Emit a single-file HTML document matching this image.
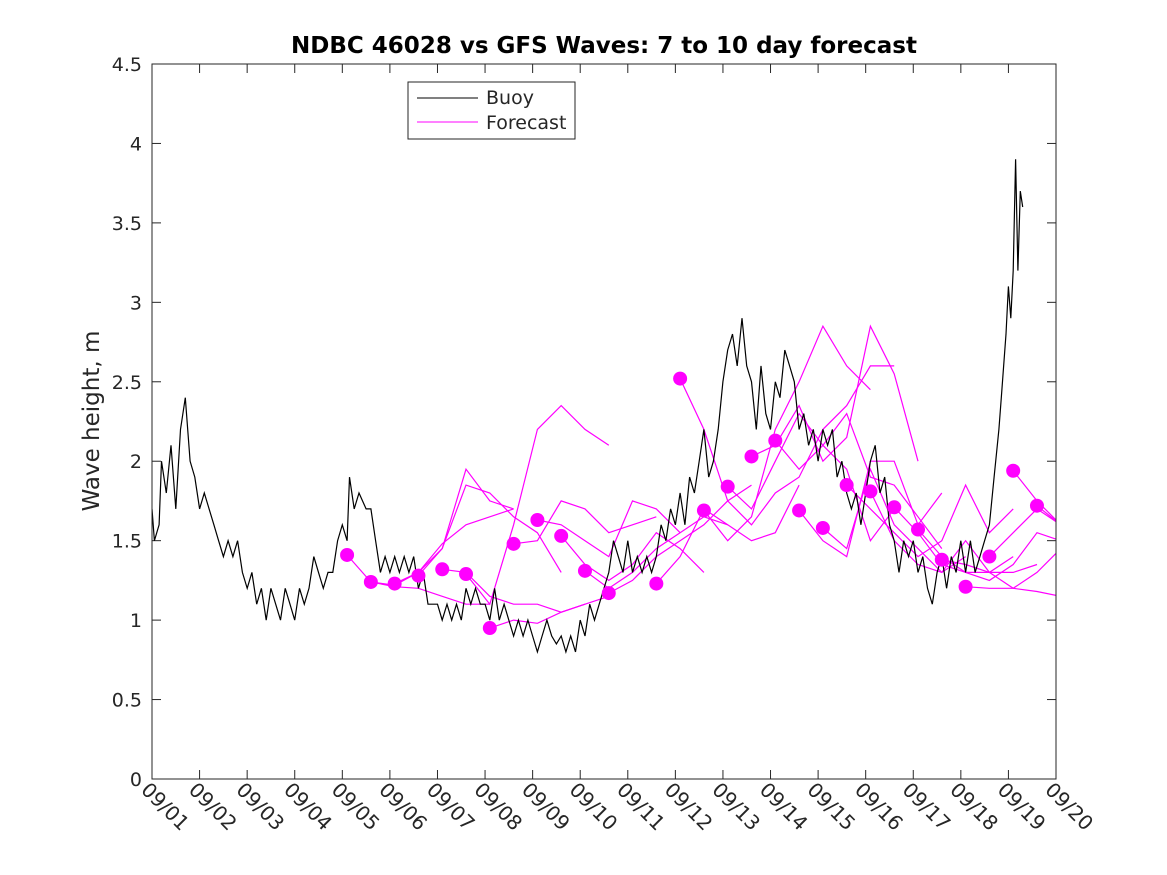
<!DOCTYPE html>
<html><head><meta charset="utf-8"><style>
body{margin:0;background:#fff;}
svg{display:block;font-family:"DejaVu Sans","Liberation Sans",sans-serif;}
</style></head><body>
<svg id="chart" width="1167" height="875" viewBox="0 0 1167 875">
<defs><clipPath id="pc"><rect x="152" y="64" width="904" height="715"/></clipPath></defs>
<rect x="0" y="0" width="1167" height="875" fill="#fff"/>
<text x="604" y="53" text-anchor="middle" font-size="23" font-weight="bold">NDBC 46028 vs GFS Waves: 7 to 10 day forecast</text>
<text transform="translate(99,421) rotate(-90)" text-anchor="middle" font-size="23" fill="#262626">Wave height, m</text>
<g id="axes"></g>
<g id="plot" clip-path="url(#pc)"></g>
<rect x="152" y="64" width="904" height="715" fill="none" stroke="#262626" stroke-width="1"/>
<g>
<rect x="408" y="82" width="167" height="57" fill="#fff" stroke="#262626" stroke-width="1"/>
<line x1="417" y1="98" x2="478" y2="98" stroke="#000"/>
<text x="486" y="104" font-size="19" fill="#262626">Buoy</text>
<line x1="417" y1="122" x2="478" y2="122" stroke="#f0f"/>
<text x="486" y="129" font-size="19" fill="#262626">Forecast</text>
</g>
</svg>
<script>
const yTicks=[0,0.5,1,1.5,2,2.5,3,3.5,4,4.5];
const yTickLabels=["0","0.5","1","1.5","2","2.5","3","3.5","4","4.5"];
const xTickLabels=["09/01","09/02","09/03","09/04","09/05","09/06","09/07","09/08","09/09","09/10","09/11","09/12","09/13","09/14","09/15","09/16","09/17","09/18","09/19","09/20"];
const buoyDays=[0,0.05,0.15,0.2,0.3,0.4,0.5,0.6,0.7,0.8,0.9,1.0,1.1,1.2,1.3,1.4,1.5,1.6,1.7,1.8,1.9,2.0,2.1,2.2,2.3,2.4,2.5,2.6,2.7,2.8,2.9,3.0,3.1,3.2,3.3,3.4,3.5,3.6,3.7,3.8,3.9,4.0,4.1,4.15,4.25,4.35,4.5,4.6,4.7,4.8,4.9,5.0,5.1,5.2,5.3,5.4,5.5,5.6,5.7,5.8,6.0,6.1,6.2,6.3,6.4,6.5,6.6,6.7,6.8,6.9,7.0,7.1,7.2,7.3,7.4,7.5,7.6,7.7,7.8,7.9,8.0,8.1,8.2,8.3,8.4,8.5,8.6,8.7,8.8,8.9,9.0,9.1,9.2,9.3,9.4,9.5,9.6,9.7,9.8,9.9,10.0,10.1,10.2,10.3,10.4,10.5,10.6,10.7,10.8,10.9,11.0,11.1,11.2,11.3,11.4,11.5,11.6,11.7,11.8,11.9,12.0,12.1,12.2,12.3,12.4,12.5,12.6,12.7,12.8,12.9,13.0,13.1,13.2,13.3,13.4,13.5,13.6,13.7,13.8,13.9,14.0,14.1,14.2,14.3,14.4,14.5,14.6,14.7,14.8,14.9,15.0,15.1,15.2,15.3,15.4,15.5,15.6,15.7,15.8,15.9,16.0,16.1,16.2,16.3,16.4,16.5,16.6,16.7,16.8,16.9,17.0,17.1,17.2,17.3,17.4,17.5,17.6,17.7,17.8,17.85,17.95,18.0,18.05,18.1,18.15,18.2,18.25,18.3];
const buoyValues=[1.7,1.5,1.6,2.0,1.8,2.1,1.7,2.2,2.4,2.0,1.9,1.7,1.8,1.7,1.6,1.5,1.4,1.5,1.4,1.5,1.3,1.2,1.3,1.1,1.2,1.0,1.2,1.1,1.0,1.2,1.1,1.0,1.2,1.1,1.2,1.4,1.3,1.2,1.3,1.3,1.5,1.6,1.5,1.9,1.7,1.8,1.7,1.7,1.5,1.3,1.4,1.3,1.4,1.3,1.4,1.3,1.4,1.2,1.3,1.1,1.1,1.0,1.1,1.0,1.1,1.0,1.2,1.1,1.2,1.1,1.1,1.0,1.2,1.0,1.1,1.0,0.9,1.0,0.9,1.0,0.9,0.8,0.9,1.0,0.9,0.85,0.9,0.8,0.9,0.8,1.0,0.9,1.1,1.0,1.1,1.2,1.3,1.5,1.4,1.3,1.5,1.3,1.4,1.3,1.4,1.3,1.4,1.6,1.5,1.7,1.6,1.8,1.6,1.9,1.8,2.0,2.2,1.9,2.0,2.2,2.5,2.7,2.8,2.6,2.9,2.6,2.5,2.2,2.6,2.3,2.2,2.5,2.4,2.7,2.6,2.5,2.2,2.3,2.1,2.2,2.0,2.2,2.1,2.2,1.9,2.0,1.8,1.7,1.8,1.6,1.8,2.0,2.1,1.8,1.9,1.6,1.5,1.3,1.5,1.4,1.5,1.3,1.4,1.2,1.1,1.3,1.4,1.2,1.4,1.3,1.5,1.3,1.5,1.3,1.4,1.5,1.6,1.9,2.2,2.4,2.8,3.1,2.9,3.2,3.9,3.2,3.7,3.6];
const markerDays=[4.1,4.6,5.1,5.6,6.1,6.6,7.1,7.6,8.1,8.6,9.1,9.6,10.6,11.1,11.6,12.1,12.6,13.1,13.6,14.1,14.6,15.1,15.6,16.1,16.6,17.1,17.6,18.1,18.6];
const markerValues=[1.41,1.24,1.23,1.28,1.32,1.29,0.95,1.48,1.63,1.53,1.31,1.17,1.23,2.52,1.69,1.84,2.03,2.13,1.69,1.58,1.85,1.81,1.71,1.57,1.38,1.21,1.40,1.94,1.72];
const forecastStep=0.5;
const forecastValues=[
[1.41,1.24,1.21,1.2,1.15,1.1,1.1],
[1.24,1.22,1.3,1.45,1.95,1.75,1.7],
[1.23,1.3,1.48,1.6,1.65,1.7],
[1.28,1.45,1.85,1.8,1.65,1.55,1.3],
[1.32,1.3,1.15,1.1,1.1,1.05,1.1],
[1.29,1.1,1.6,2.2,2.35,2.2,2.1],
[0.95,1.0,0.98,1.05,1.1,1.15],
[1.48,1.5,1.75,1.7,1.55,1.6,1.65],
[1.63,1.6,1.5,1.4,1.75,1.7,1.55],
[1.53,1.35,1.25,1.35,1.55,1.45,1.3],
[1.31,1.2,1.3,1.45,1.55,1.65,1.6],
[1.17,1.25,1.4,1.5,1.6,1.75,1.85],
[1.23,1.4,1.7,1.6,1.5,1.55,1.85],
[2.52,2.2,1.75,1.6,1.8,1.9,2.2,2.35,2.6,2.6],
[1.69,1.5,1.65,2.2,2.5,2.85,2.6,2.45],
[1.84,1.7,2.0,2.3,2.1,1.95,1.5,1.7],
[2.03,2.1,2.35,2.0,2.15,2.85,2.55,2.0],
[2.13,1.95,2.1,2.3,1.9,1.85,1.65,1.45],
[1.69,1.5,1.4,2.0,2.0,1.6,1.8],
[1.58,1.45,1.95,1.6,1.45,1.3,1.4],
[1.85,1.7,1.55,1.4,1.5,1.85,1.55,1.7],
[1.81,1.5,1.35,1.3,1.5,1.3,1.4],
[1.71,1.55,1.35,1.3,1.3,1.3,1.35],
[1.57,1.4,1.3,1.25,1.35,1.55,1.5],
[1.38,1.35,1.3,1.2,1.3,1.45,1.25],
[1.21,1.2,1.2,1.18,1.15,1.1],
[1.40,1.55,1.7,1.6,1.45,1.3],
[1.94,1.75,1.6,1.45,1.4,1.42],
[1.72,1.6,1.5,1.4]
];
const X0=152,X1=1056,Y0=779,Y1=64,DAYS=19,YMAX=4.5;
function xs(d){return X0+(X1-X0)*d/DAYS;}
function ys(v){return Y0-(Y0-Y1)*v/YMAX;}
const NS="http://www.w3.org/2000/svg";
const ax=document.getElementById('axes');
const g=document.getElementById('plot');
function mk(par,t,a){const e=document.createElementNS(NS,t);for(const k in a)e.setAttribute(k,a[k]);par.appendChild(e);return e;}
yTicks.forEach((v,i)=>{
 const y=ys(v);
 let t=mk(ax,'line',{x1:X0,y1:y,x2:X0+9,y2:y,stroke:'#262626'});
 
 
 t=mk(ax,'line',{x1:X1,y1:y,x2:X1-9,y2:y,stroke:'#262626'});
 
 
 const l=mk(ax,'text',{x:X0-10,y:y+7,'text-anchor':'end','font-size':19,fill:'#262626'});
 l.textContent=yTickLabels[i];
 
 
});
xTickLabels.forEach((s,i)=>{
 const x=xs(i);
 let t=mk(ax,'line',{x1:x,y1:Y0,x2:x,y2:Y0-9,stroke:'#262626'});
 
 
 t=mk(ax,'line',{x1:x,y1:Y1,x2:x,y2:Y1+9,stroke:'#262626'});
 
 
 const l=mk(ax,'text',{x:0,y:0,'font-size':20,fill:'#262626',transform:`translate(${x-12},${Y0+12}) rotate(45)`});
 l.textContent=s;
 
 
});
forecastValues.forEach((arr,i)=>{
 const d0=markerDays[i];
 const pts=arr.map((v,j)=>xs(d0+j*forecastStep).toFixed(1)+','+ys(v).toFixed(1)).join(' ');
 const p=mk(g,'polyline',{points:pts,fill:'none',stroke:'#f0f','stroke-width':1.2});
 
 
});
const bp=buoyValues.map((v,j)=>xs(buoyDays[j]).toFixed(1)+','+ys(v).toFixed(1)).join(' ');
const b=mk(g,'polyline',{points:bp,fill:'none',stroke:'#000','stroke-width':1.2});


markerDays.forEach((d,i)=>{
 const c=mk(g,'circle',{cx:xs(d),cy:ys(markerValues[i]),r:7,fill:'#f0f'});
 
 
});
</script>
</body></html>
